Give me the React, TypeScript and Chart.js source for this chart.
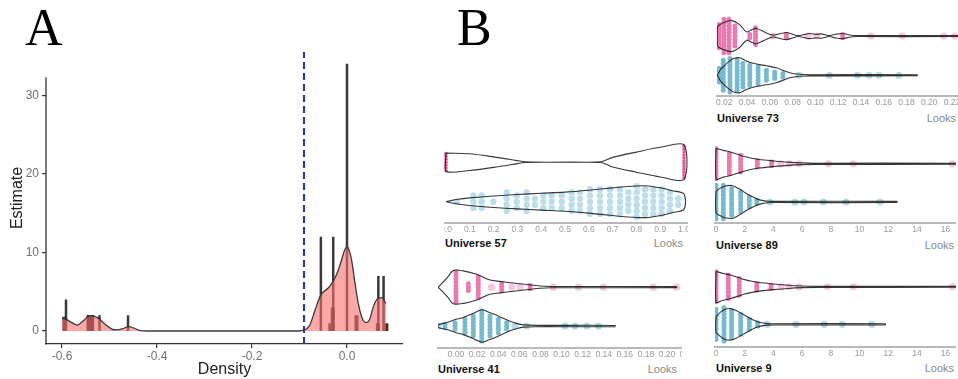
import React, { useEffect, useRef } from "react";
import { Chart, registerables } from "chart.js";
Chart.register(...registerables);

// ---------------- Panel A data ----------------
const densityX = [-0.6, -0.592, -0.58, -0.568, -0.555, -0.545, -0.5395, -0.5255, -0.51, -0.495, -0.485, -0.472, -0.46, -0.448, -0.436, -0.42, -0.3, -0.2, -0.1, -0.092, -0.085, -0.078, -0.067, -0.06, -0.0549, -0.047, -0.039, -0.0295, -0.022, -0.0147, -0.0042, 0.0006, 0.005, 0.0098, 0.0168, 0.0238, 0.0309, 0.04, 0.0484, 0.0554, 0.066, 0.073, 0.08, 0.082];
const densityY = [1.6, 1.5, 1.1, 0.75, 1.3, 1.85, 1.95, 1.7, 0.9, 0.25, 0.15, 0.3, 0.55, 0.35, 0.06, 0, 0, 0, 0, 0.1, 0.3, 0.8, 2.7, 3.9, 4.6, 5.1, 5.5, 6.3, 7.2, 8.4, 10.4, 10.7, 10.2, 9.0, 6.1, 3.5, 1.8, 1.06, 1.6, 3.1, 4.2, 4.25, 3.7, 3.5];
const estimateX = [-0.5916, -0.545, -0.54, -0.535, -0.521, -0.461, -0.055, -0.029, 0.0, 0.066, 0.077];
const estimateY = [4, 2, 2, 2, 2, 2, 12, 12, 34, 7, 7];
const binX = [-0.595, -0.544, -0.537, -0.035, -0.03, 0.02, 0.065, 0.083];
const binY = [1.8, 2, 2, 1, 3, 2, 1, 1];
const thresholdX = -0.0905;
const xTicksA = [-0.6, -0.4, -0.2, 0.0];
const yTicksA = [0, 10, 20, 30];
const yAxisTopA = 32.3;

// ---------------- Panel B data ----------------
// Universe 73
const u73Ticks = [0.02, 0.04, 0.06, 0.08, 0.1, 0.12, 0.14, 0.16, 0.18, 0.2, 0.22, 0.24];
const u73PinkX = [0.0139, 0.019, 0.0265, 0.0337, 0.0396, 0.044, 0.0483, 0.057, 0.0628, 0.069, 0.0745, 0.08, 0.0846, 0.09, 0.0948, 0.1007, 0.105, 0.1123, 0.118, 0.1239, 0.13, 0.1352, 0.225];
const u73PinkW = [10, 14, 16.2, 11.7, 4.3, 6.5, 8, 3.3, 1, 2.5, 3.8, 2, 0.5, 1.5, 2.7, 1.8, 2.3, 0.5, 2, 2.7, 1.2, 0.5, 0.5];
const u73PinkDotX = [0.0156, 0.0197, 0.0241, 0.0293, 0.0424, 0.0474, 0.0628, 0.0745, 0.0933, 0.1012, 0.1239, 0.1487, 0.1763, 0.2127, 0.2223];
const u73PinkDotN = [8, 11, 11, 7, 2, 6, 1, 2, 1, 1, 2, 1, 1, 1, 1];
const u73TealX = [0.0139, 0.0167, 0.02, 0.0248, 0.0283, 0.0337, 0.0383, 0.0453, 0.057, 0.0657, 0.0774, 0.0861, 0.0948, 0.1894];
const u73TealW = [0, 6, 10, 15, 17.5, 18.3, 15.5, 12.5, 10, 7.8, 2.7, 1, 0.6, 0.5];
const u73TealDotX = [0.0156, 0.0191, 0.025, 0.0313, 0.0363, 0.0424, 0.0497, 0.057, 0.0643, 0.0715, 0.0855, 0.1123, 0.137, 0.1472, 0.1559, 0.1734];
const u73TealDotN = [5, 10, 11, 10, 8, 7, 6, 4, 3, 2, 1, 1, 1, 1, 1, 1];

// Universe 57
const u57Ticks = [0, 0.1, 0.2, 0.3, 0.4, 0.5, 0.6, 0.7, 0.8, 0.9, 1.0];
const u57PinkX = [0, 0.1, 0.2, 0.3, 0.33, 0.65, 0.7, 0.8, 0.9, 1.0];
const u57PinkW = [9.5, 8.7, 5.5, 1.6, 0.4, 0.4, 5, 10.5, 15.5, 18];
const u57PinkDotX = [0, 1];
const u57PinkDotN = [7, 12];
const u57TealX = [0, 0.05, 0.1, 0.2, 0.3, 0.4, 0.5, 0.6, 0.7, 0.8, 0.85, 0.9, 0.95, 1.0];
const u57TealW = [0, 2.5, 4, 6, 7.5, 8.8, 10, 12, 14.5, 16.5, 16.5, 14.5, 11.5, 8];
const u57TealDotX = [0.045, 0.115, 0.15, 0.199, 0.255, 0.297, 0.339, 0.374, 0.409, 0.444, 0.486, 0.528, 0.563, 0.605, 0.647, 0.689, 0.731, 0.766, 0.801, 0.836, 0.871, 0.906, 0.941, 0.976];
const u57TealDotN = [1, 3, 3, 1, 4, 3, 4, 2, 3, 3, 3, 4, 4, 5, 5, 5, 5, 4, 6, 5, 5, 5, 4, 2];

// Universe 41
const u41Ticks = [0, 0.02, 0.04, 0.06, 0.08, 0.1, 0.12, 0.14, 0.16, 0.18, 0.2, 0.22];
const u41PinkX = [-0.0168, -0.012, -0.0075, -0.0026, 0.0069, 0.0196, 0.0322, 0.0417, 0.0543, 0.067, 0.0796, 0.09, 0.209];
const u41PinkW = [0, 5.5, 11, 17.5, 17, 13.4, 7.5, 6, 4.3, 2.8, 1.2, 0.7, 0.5];
const u41PinkDotX = [0, 0.0117, 0.0211, 0.0338, 0.0433, 0.0528, 0.0607, 0.0702, 0.0922, 0.116, 0.1396, 0.187, 0.209];
const u41PinkDotN = [10, 3, 7, 1, 3, 1, 1, 2, 1, 1, 1, 1, 1];
const u41TealX = [-0.0168, -0.008, 0.0, 0.0069, 0.015, 0.0244, 0.03, 0.037, 0.044, 0.0512, 0.058, 0.0638, 0.075, 0.1507];
const u41TealW = [1.5, 4, 7, 9, 12.5, 17, 15, 12, 8.5, 5, 2.5, 1.2, 0.7, 0.6];
const u41TealDotX = [-0.0168, -0.0104, -0.0009, 0.0085, 0.0164, 0.0244, 0.0322, 0.0401, 0.048, 0.056, 0.067, 0.1033, 0.1128, 0.1239, 0.135];
const u41TealDotN = [1, 2, 3, 5, 7, 10, 7, 5, 3, 1, 1, 1, 1, 1, 1];

// Universe 89
const looksTicks = [0, 2, 4, 6, 8, 10, 12, 14, 16, 18];
const u89PinkX = [0, 0.5, 1, 1.5, 2, 2.5, 3, 4, 5, 6, 7, 16.7];
const u89PinkW = [16, 14, 12.3, 10, 7.5, 5.8, 4.5, 3, 1.7, 0.9, 0.6, 0.5];
const u89PinkDotX = [0, 0.93, 1.72, 2.88, 3.88, 4.5, 5.11, 5.78, 7.83, 9.57, 16.47];
const u89PinkDotN = [10, 7, 6, 3, 2, 1, 1, 1, 1, 1, 1];
const u89TealX = [0, 0.3, 0.6, 1.1, 1.4, 1.7, 2.0, 2.3, 2.6, 2.9, 3.2, 3.6, 4, 12.6];
const u89TealW = [11, 14.5, 16.5, 17.3, 15.5, 13, 10, 7.3, 5, 3, 1.7, 0.8, 0.6, 0.6];
const u89TealDotX = [0, 0.51, 1.09, 1.72, 2.32, 2.84, 3.76, 5.5, 6.13, 7.48, 9.06, 11.43];
const u89TealDotN = [11, 11, 9, 7, 4, 2, 1, 1, 1, 1, 1, 1];

// Universe 9
const u9PinkX = [0, 0.5, 1, 1.5, 2, 2.5, 3, 4, 5, 6, 7, 16.7];
const u9PinkW = [16, 14, 12.3, 10, 7.5, 5.8, 4.5, 3, 1.7, 0.9, 0.6, 0.5];
const u9PinkDotX = [0, 0.86, 1.62, 2.84, 3.83, 4.53, 5.09, 5.8, 7.76, 9.57, 16.49];
const u9PinkDotN = [10, 8, 6, 3, 2, 1, 1, 1, 1, 1, 1];
const u9TealX = [0, 0.3, 0.6, 1.0, 1.4, 1.7, 2.0, 2.3, 2.6, 2.9, 3.2, 3.6, 4, 11.8];
const u9TealW = [8, 12.5, 15.5, 16.5, 14.5, 12, 9.5, 7, 4.5, 2.8, 1.6, 0.8, 0.6, 0.6];
const u9TealDotX = [0, 0.56, 1.09, 1.72, 2.32, 2.9, 3.57, 5.57, 7.55, 8.8, 10.85];
const u9TealDotN = [10, 11, 9, 7, 4, 2, 1, 1, 1, 1, 1];

// ---------------- styles ----------------
const PINK = "rgb(233, 122, 178)";
const PINK_SINGLE = "rgba(236, 130, 182, 0.45)";
const TEAL = "rgb(118, 186, 208)";
const TEAL_SINGLE = "rgba(110, 185, 208, 0.5)";
const PALE_TEAL = "rgb(186, 223, 234)";
const OUTLINE = "rgba(20, 20, 20, 0.85)";
const SANS = '"Liberation Sans", Arial, Helvetica, sans-serif';

type Group = {
  ox: number[]; ow: number[]; dx: number[]; dn: number[]; center: number;
  color: string; single: string; r: number; rs: number; gap: number;
};

function violinDatasets(g: Group): any[] {
  const upper = g.ox.map((x, i) => ({ x, y: g.center + g.ow[i] }));
  const lower = g.ox.map((x, i) => ({ x, y: g.center - g.ow[i] })).reverse();
  const outline = [...upper, ...lower, upper[0]];
  const dots: { x: number; y: number }[] = [];
  const singles: { x: number; y: number }[] = [];
  g.dx.forEach((x, i) => {
    const n = g.dn[i];
    if (n === 1) { singles.push({ x, y: g.center }); return; }
    for (let k = 0; k < n; k++) dots.push({ x, y: g.center + (k - (n - 1) / 2) * g.gap });
  });
  return [
    { data: outline, borderColor: OUTLINE, borderWidth: 1.1, tension: 0.3, pointRadius: 0, fill: false, order: 0 },
    { data: dots, showLine: false, pointBackgroundColor: g.color, pointRadius: g.r, pointBorderWidth: 0, borderWidth: 0, order: 1 },
    { data: singles, showLine: false, pointBackgroundColor: g.single, pointRadius: g.rs, pointBorderWidth: 0, borderWidth: 0, order: 2 },
  ];
}

type PanelDef = {
  title: string;
  clipLeft: number; clipWidth: number; canvasLeft: number; top: number;
  padL: number; padR: number; areaW: number;
  xMin: number; xMax: number; ticks: number[]; dec: number;
  pink: Group; teal: Group;
  titleLeft: number; titleY: number; looksRight: number;
};

const AREA_H = 90;
const AXIS_H = 14;

const pinkStyle = { color: PINK, single: PINK_SINGLE, r: 2.5, rs: 3.6, gap: 3.5 };
const tealStyle = { color: TEAL, single: TEAL_SINGLE, r: 2.5, rs: 3.6, gap: 3.5 };

const PANELS: PanelDef[] = [
  {
    title: "Universe 73", clipLeft: 700, clipWidth: 258, canvasLeft: 700, top: 6, padL: 17, padR: 10, areaW: 258,
    xMin: 0.0136, xMax: 0.2389, ticks: u73Ticks, dec: 2,
    pink: { ox: u73PinkX, ow: u73PinkW, dx: u73PinkDotX, dn: u73PinkDotN, center: 62.7, ...pinkStyle },
    teal: { ox: u73TealX, ow: u73TealW, dx: u73TealDotX, dn: u73TealDotN, center: 21.7, ...tealStyle },
    titleLeft: 717, titleY: 118, looksRight: 956,
  },
  {
    title: "Universe 57", clipLeft: 444, clipWidth: 244, canvasLeft: 424, top: 133, padL: 20, padR: 20, areaW: 244,
    xMin: -0.0084, xMax: 1.0168, ticks: u57Ticks, dec: 1,
    pink: { ox: u57PinkX, ow: u57PinkW, dx: u57PinkDotX, dn: u57PinkDotN, center: 63.7, color: "rgb(226, 92, 158)", single: PINK_SINGLE, r: 1.8, rs: 3, gap: 3 },
    teal: { ox: u57TealX, ow: u57TealW, dx: u57TealDotX, dn: u57TealDotN, center: 22.3, color: PALE_TEAL, single: PALE_TEAL, r: 3.2, rs: 3.2, gap: 6.5 },
    titleLeft: 445, titleY: 243, looksRight: 683,
  },
  {
    title: "Universe 41", clipLeft: 436, clipWidth: 246, canvasLeft: 418, top: 258, padL: 20, padR: 20, areaW: 252,
    xMin: -0.01706, xMax: 0.2218, ticks: u41Ticks, dec: 2,
    pink: { ox: u41PinkX, ow: u41PinkW, dx: u41PinkDotX, dn: u41PinkDotN, center: 63.7, ...pinkStyle },
    teal: { ox: u41TealX, ow: u41TealW, dx: u41TealDotX, dn: u41TealDotN, center: 23, ...tealStyle },
    titleLeft: 438, titleY: 369, looksRight: 677,
  },
  {
    title: "Universe 89", clipLeft: 700, clipWidth: 256, canvasLeft: 700, top: 133, padL: 15, padR: 15, areaW: 260,
    xMin: -0.0697, xMax: 18.05, ticks: looksTicks, dec: 0,
    pink: { ox: u89PinkX, ow: u89PinkW, dx: u89PinkDotX, dn: u89PinkDotN, center: 62, ...pinkStyle },
    teal: { ox: u89TealX, ow: u89TealW, dx: u89TealDotX, dn: u89TealDotN, center: 22, ...tealStyle },
    titleLeft: 716, titleY: 245.7, looksRight: 954,
  },
  {
    title: "Universe 9", clipLeft: 700, clipWidth: 256, canvasLeft: 700, top: 257, padL: 15, padR: 15, areaW: 260,
    xMin: -0.0697, xMax: 18.05, ticks: looksTicks, dec: 0,
    pink: { ox: u9PinkX, ow: u9PinkW, dx: u9PinkDotX, dn: u9PinkDotN, center: 63, ...pinkStyle },
    teal: { ox: u9TealX, ow: u9TealW, dx: u9TealDotX, dn: u9TealDotN, center: 23.7, ...tealStyle },
    titleLeft: 716, titleY: 368.3, looksRight: 954,
  },
];

function violinConfig(p: PanelDef): any {
  return {
    type: "line",
    data: { datasets: [...violinDatasets(p.pink), ...violinDatasets(p.teal)] },
    options: {
      animation: false,
      responsive: false,
      devicePixelRatio: 1,
      events: [],
      layout: { padding: { left: p.padL, right: p.padR, top: 0, bottom: 0 } },
      plugins: { legend: { display: false }, tooltip: { enabled: false }, title: { display: false } },
      scales: {
        x: {
          type: "linear",
          min: p.xMin,
          max: p.xMax,
          afterBuildTicks: (a: any) => { a.ticks = p.ticks.map((v) => ({ value: v })); },
          afterFit: (a: any) => { a.height = AXIS_H; },
          grid: { display: false, drawTicks: false },
          border: { display: true, color: "#b9b9b9", width: 2 },
          ticks: {
            autoSkip: false, maxRotation: 0, minRotation: 0, padding: 2, color: "#9a9a9a",
            font: { family: SANS, size: 8.5 },
            callback: (v: any) => Number(v).toFixed(p.dec),
          },
        },
        y: { type: "linear", display: false, min: 0, max: AREA_H },
      },
    },
  };
}

const yAxisLinePlugin = {
  id: "yAxisLineA",
  afterDraw(chart: any) {
    const { ctx, chartArea, scales } = chart;
    const yTop = scales.y.getPixelForValue(yAxisTopA);
    ctx.save();
    ctx.strokeStyle = "#333";
    ctx.lineWidth = 1.3;
    ctx.beginPath();
    ctx.moveTo(chartArea.left, yTop);
    ctx.lineTo(chartArea.left, chartArea.bottom + 0.6);
    ctx.stroke();
    ctx.restore();
  },
};

function segments(xs: number[], ys: number[]) {
  const out: { x: number; y: number | null }[] = [];
  xs.forEach((x, i) => { out.push({ x, y: 0 }, { x, y: ys[i] }, { x, y: null }); });
  return out;
}

function panelAConfig(): any {
  return {
    type: "line",
    data: {
      datasets: [
        {
          data: [{ x: thresholdX, y: -1.654 }, { x: thresholdX, y: 35.5 }],
          borderColor: "#2f3a9c", borderWidth: 2.2, borderDash: [7, 4], pointRadius: 0, fill: false, order: -1,
        },
        {
          data: densityX.map((x, i) => ({ x, y: densityY[i] })),
          borderColor: "#3a3a3a", borderWidth: 1.3, backgroundColor: "rgba(246,110,110,0.6)",
          fill: "origin", cubicInterpolationMode: "monotone", pointRadius: 0, order: 0,
        },
        {
          data: segments(estimateX, estimateY),
          borderColor: "rgba(35,35,35,0.9)", borderWidth: 2.5, pointRadius: 0, fill: false, spanGaps: false, order: 2,
        },
        {
          data: segments(binX, binY),
          borderColor: "rgba(60,20,20,0.9)", borderWidth: 4, pointRadius: 0, fill: false, spanGaps: false, order: 3,
        },
      ],
    },
    options: {
      animation: false,
      responsive: false,
      devicePixelRatio: 1,
      events: [],
      layout: { padding: { left: 0, right: 17, top: 12, bottom: 0 } },
      plugins: { legend: { display: false }, tooltip: { enabled: false } },
      scales: {
        x: {
          type: "linear", min: -0.6337, max: 0.1179,
          afterBuildTicks: (a: any) => { a.ticks = xTicksA.map((v) => ({ value: v })); },
          afterFit: (a: any) => { a.height = 35; },
          grid: { display: true, drawOnChartArea: false, drawTicks: true, tickLength: 4, color: "#333", lineWidth: 1.2 },
          border: { display: true, color: "#333", width: 1.3 },
          ticks: { autoSkip: false, maxRotation: 0, padding: 1, color: "#707070", font: { family: SANS, size: 12 }, callback: (v: any) => Number(v).toFixed(1) },
          title: { display: true, text: "Density", color: "#222", font: { family: SANS, size: 16 }, padding: { top: 0, bottom: 0 } },
        },
        y: {
          type: "linear", min: -1.654, max: 35.5,
          afterBuildTicks: (a: any) => { a.ticks = yTicksA.map((v) => ({ value: v })); },
          afterFit: (a: any) => { a.width = 46; },
          grid: { display: true, drawOnChartArea: false, drawTicks: true, tickLength: 4, color: "#333", lineWidth: 1.2 },
          border: { display: false },
          ticks: { padding: 3, color: "#707070", font: { family: SANS, size: 12 } },
          title: { display: true, text: "Estimate", color: "#222", font: { family: SANS, size: 16 }, padding: { top: 8, bottom: 0 } },
        },
      },
    },
    plugins: [yAxisLinePlugin],
  };
}

function ChartCanvas({ make, width, height, left, top }: { make: () => any; width: number; height: number; left: number; top: number }) {
  const ref = useRef<HTMLCanvasElement>(null);
  useEffect(() => {
    const chart = new Chart(ref.current as HTMLCanvasElement, make());
    return () => chart.destroy();
  }, []);
  return (
    <canvas
      ref={ref}
      width={width}
      height={height}
      style={{ position: "absolute", left, top, width, height, display: "block" }}
    />
  );
}

function Text({ children, left, right, cy, size, weight, color, family }: any) {
  const lh = Math.round(size * 1.2);
  const style: any = {
    position: "absolute", top: cy - lh / 2, fontSize: size, lineHeight: lh + "px",
    fontWeight: weight || 400, color, fontFamily: family || SANS, whiteSpace: "nowrap",
  };
  if (left !== undefined) style.left = left;
  if (right !== undefined) { style.right = 958 - right; style.textAlign = "right"; }
  return <div style={style}>{children}</div>;
}

export default function App() {
  return (
    <div style={{ position: "absolute", left: 0, top: 0, width: 958, height: 379, overflow: "hidden", background: "#fff" }}>
      <div style={{ position: "absolute", left: 25, top: 2, fontSize: 52, lineHeight: "52px", fontFamily: '"Liberation Serif", "Times New Roman", serif', color: "#000" }}>A</div>
      <div style={{ position: "absolute", left: 457, top: 2, fontSize: 52, lineHeight: "52px", fontFamily: '"Liberation Serif", "Times New Roman", serif', color: "#000" }}>B</div>

      <ChartCanvas make={panelAConfig} width={420} height={339} left={0} top={40} />

      {PANELS.map((p) => (
        <div key={p.title} style={{ position: "absolute", left: p.clipLeft, top: p.top, width: p.clipWidth, height: AREA_H + AXIS_H, overflow: "hidden" }}>
          <ChartCanvas
            make={() => violinConfig(p)}
            width={p.padL + p.areaW + p.padR}
            height={AREA_H + AXIS_H}
            left={p.canvasLeft - p.clipLeft}
            top={0}
          />
        </div>
      ))}

      {PANELS.map((p) => (
        <React.Fragment key={p.title + "-t"}>
          <Text left={p.titleLeft} cy={p.titleY} size={11} weight={700} color="#111">{p.title}</Text>
          <Text right={p.looksRight} cy={p.titleY} size={11} color="#8a8a8a">Looks</Text>
        </React.Fragment>
      ))}
    </div>
  );
}
